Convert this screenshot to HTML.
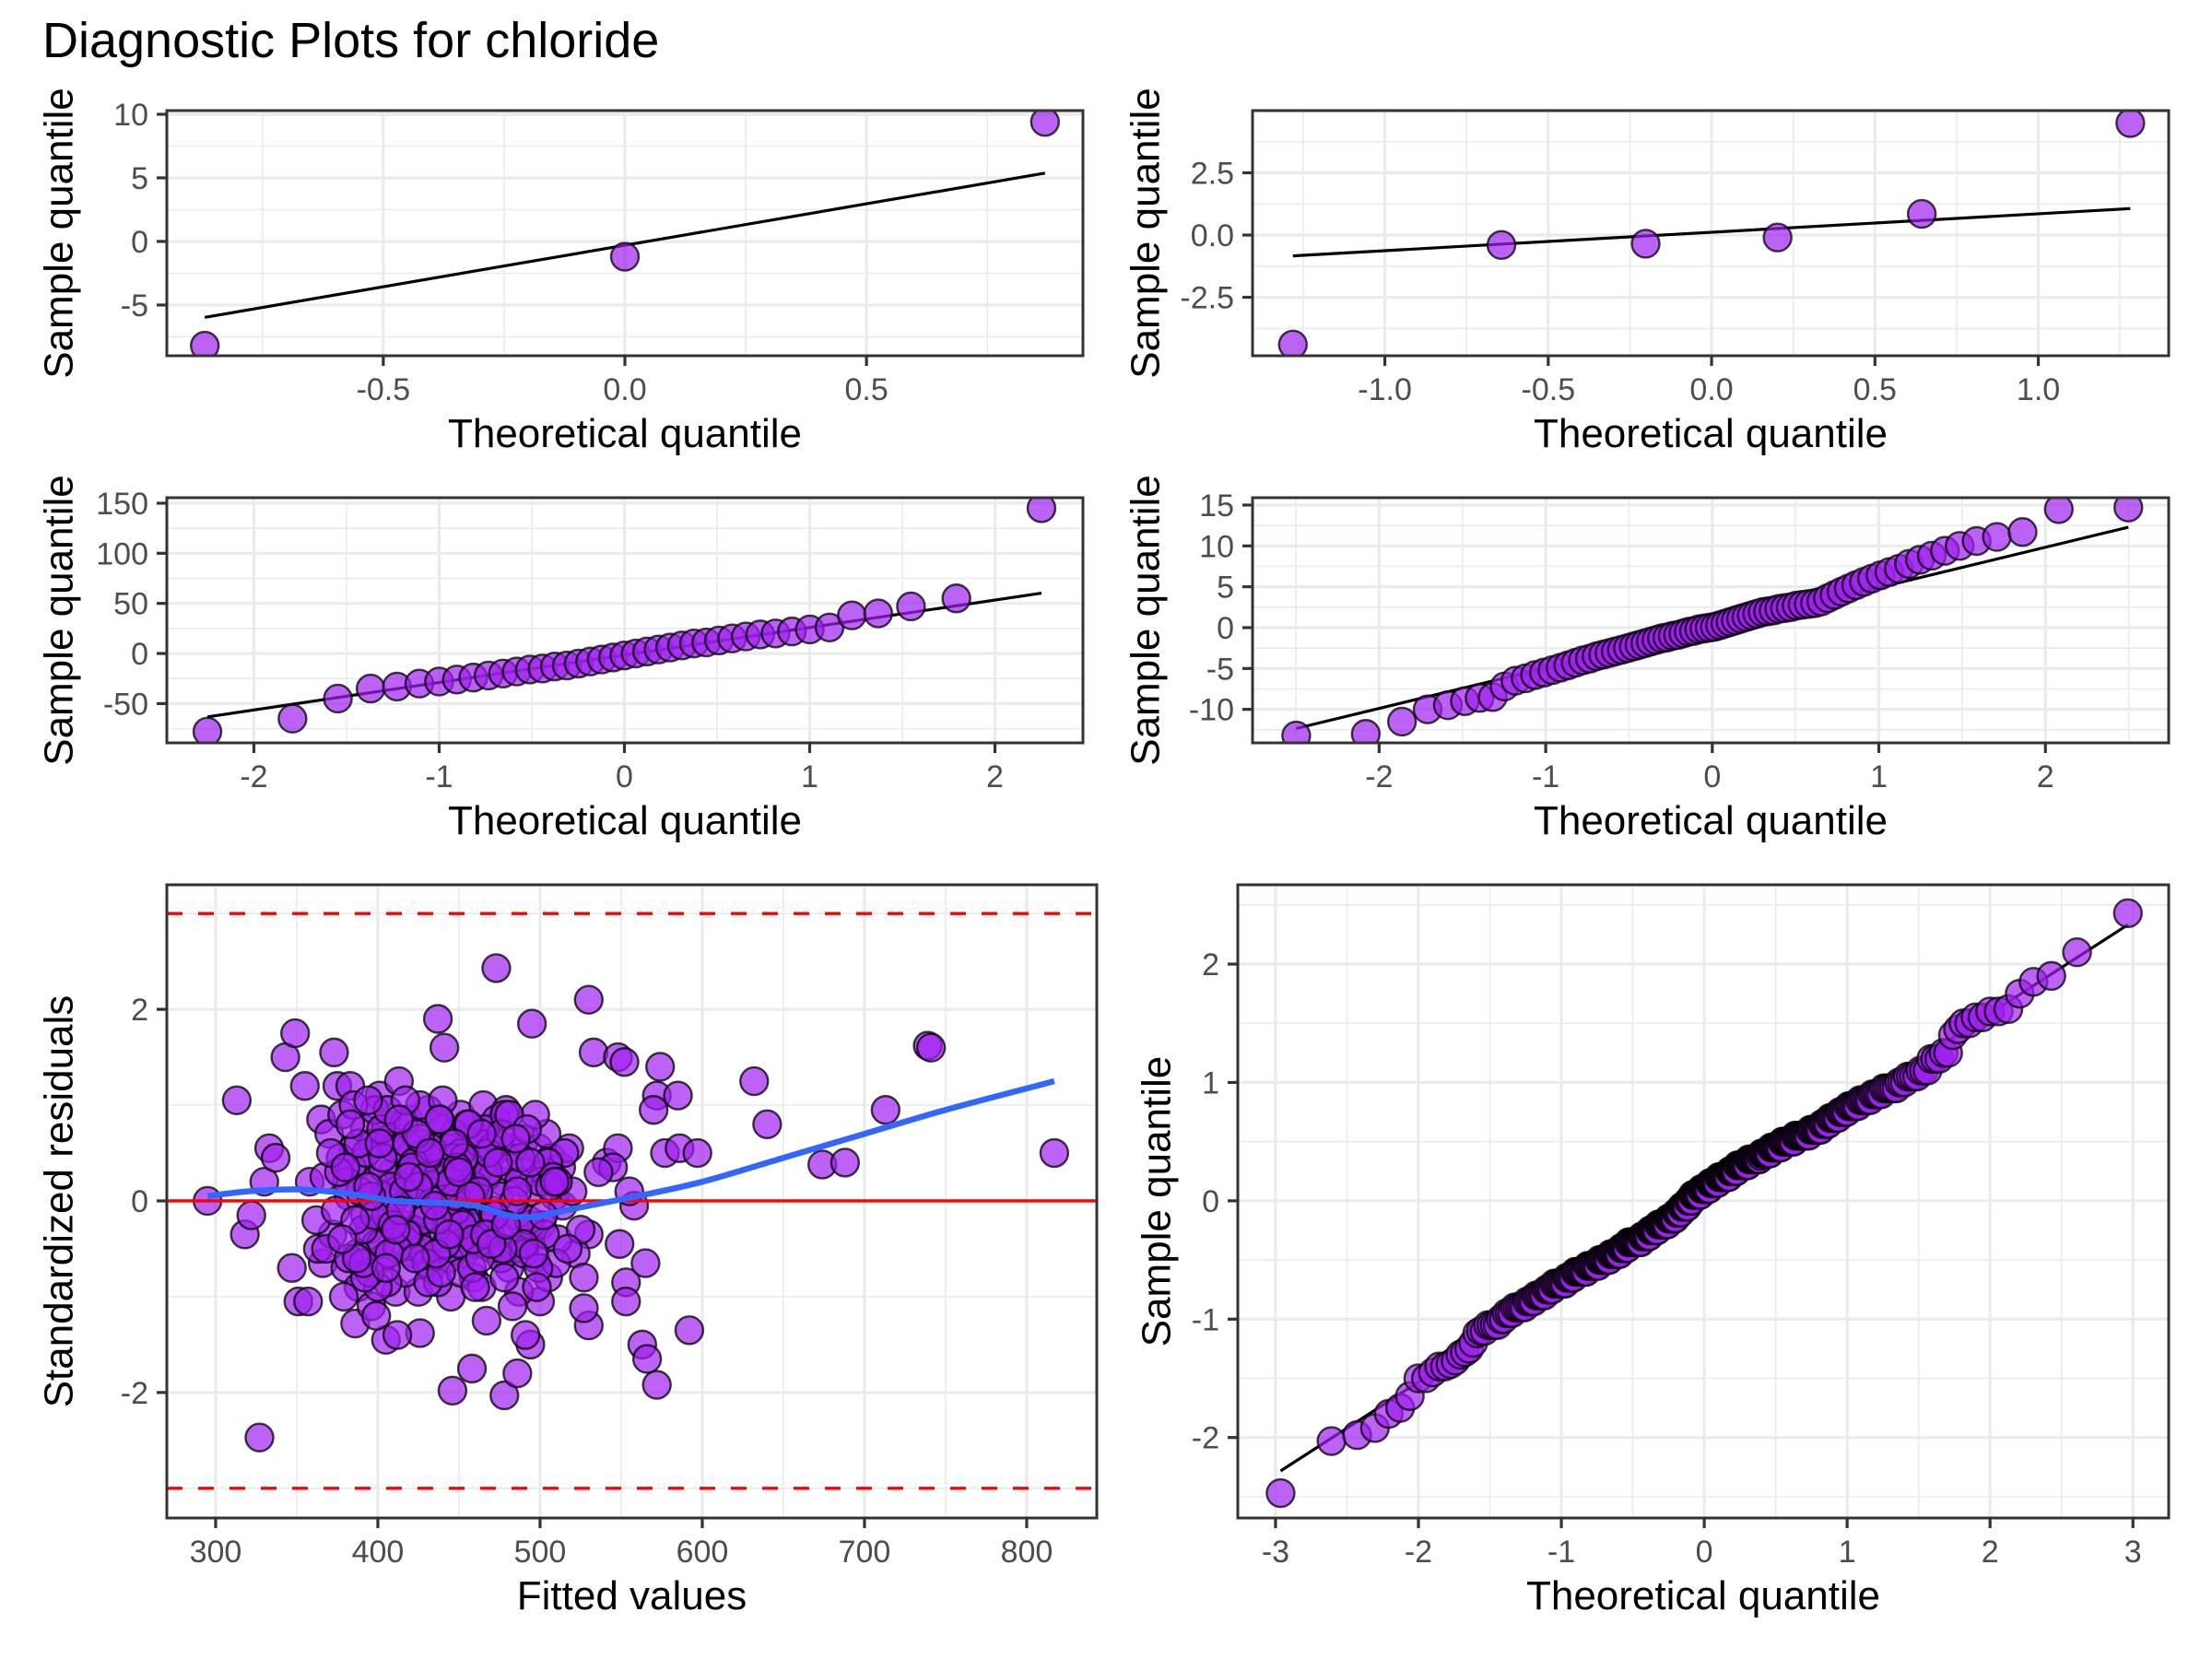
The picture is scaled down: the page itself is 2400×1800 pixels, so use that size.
<!DOCTYPE html>
<html>
<head>
<meta charset="utf-8">
<title>Diagnostic Plots for chloride</title>
<style>
  html, body { margin: 0; padding: 0; background: #ffffff; }
  svg { display: block; font-family: "Liberation Sans", Arial, sans-serif; }
</style>
</head>
<body>
<svg id="chart" width="2400" height="1800" viewBox="0 0 2400 1800" xmlns="http://www.w3.org/2000/svg">
  <rect x="0" y="0" width="2400" height="1800" fill="#ffffff"/>
  <text x="46" y="62" font-size="54" fill="#000000">Diagnostic Plots for chloride</text>
</svg>
<script>
// ---------------- DATA ----------------
const qq1Sample = [-8.2, -1.2, 9.4];
const qq2Sample = [-4.4, -0.4, -0.35, -0.1, 0.85, 4.5];
const qq3Sample = [-78, -65, -45, -35, -33, -30, -28, -26, -24, -22,
  -20, -18, -16, -15, -13, -12, -10, -8, -6, -4,
  -2, 0, 2, 4, 6, 8, 10, 11, 13, 15,
  17, 19, 20, 22, 24, 26, 38, 40, 47, 55, 145];
const qq4Sample = [-13.2, -13, -11.5, -10, -9.5, -9, -8.6, -8.5, -7.2, -6.5,
  -6.2, -5.8, -5.5, -5.2, -4.9, -4.6, -4.3, -4.0, -3.8, -3.5,
  -3.3, -3.1, -2.9, -2.7, -2.5, -2.3, -2.1, -1.9, -1.7, -1.5,
  -1.3, -1.2, -1.0, -0.9, -0.7, -0.5, -0.4, -0.2, -0.1, 0.0,
  0.1, 0.3, 0.5, 0.7, 0.9, 1.1, 1.3, 1.5, 1.7, 1.9,
  2.0, 2.1, 2.3, 2.4, 2.5, 2.7, 2.8, 2.9, 3.0, 3.2,
  3.6, 4.0, 4.4, 4.8, 5.2, 5.6, 6.0, 6.4, 6.8, 7.2,
  7.8, 8.3, 8.8, 9.4, 10.0, 10.6, 11.1, 11.7, 14.5, 14.7];
const fittedValues = [295,313,318,327,330,333,337,343,349,351,
  355,347,373,437,441,473,495,530,533,548,
  552,574,572,585,570,577,586,597,632,640,
  674,688,713,739,741,817,592,563,566,572,
  446,478,458,486,494,491,530,527,553,553,
  565,549,541,548,545,558,555,536,530,522,
  527,500,426,405,412,386,366,363,357,322,
  365,370,375,378,380,383,385,388,390,392,
  395,397,399,401,403,405,407,409,411,413,
  415,417,419,421,423,425,427,429,431,433,
  435,437,439,441,443,445,447,449,451,453,
  455,457,459,461,463,465,467,469,471,473,
  475,477,479,481,483,485,487,489,491,493,
  495,497,499,501,503,505,507,509,511,513,
  372,382,392,402,412,422,432,442,452,462,
  377,387,397,407,417,427,437,447,457,467,
  368,384,396,404,416,424,436,444,456,464,
  474,484,494,504,514,518,471,481,461,451,
  389,398,406,414,426,434,446,454,466,476,
  379,391,403,415,427,439,451,463,475,487,
  381,393,405,419,431,443,455,469,483,497,
  400,410,420,430,440,450,460,470,480,490,
  385,395,408,418,428,438,448,458,468,478,
  358,362,367,374,515,520,525,510,505,500,
  402,418,433,448,463,478,493,508,388,398,
  412,422,438,452,468,484,499,376,392,406,
  416,426,442,456,472,488,503,382,394,409,
  421,431,445,459,476,490,506,371,386,396,
  407,417,429,439,453,466,481,496,511,391,
  403,414,424,436,449,462,477,492,383,399,
  411,425,437,447,460,474,486,502,517,380,
  405,419,432,444,457,470,485,498,387,401,
  413,423,435,450,464,479,494,509,378,394];
const stdResiduals = [0,1.05,-0.35,-2.47,0.2,0.55,0.45,1.5,1.75,-1.05,
  1.2,-0.7,1.55,1.9,1.6,2.43,1.85,2.1,1.55,1.5,
  1.45,1.4,1.1,1.1,0.95,0.5,0.55,0.5,1.25,0.8,
  0.38,0.4,0.95,1.62,1.6,0.5,-1.35,-1.5,-1.65,-1.92,
  -1.98,-2.03,-1.75,-1.8,-1.5,-1.4,-1.3,-1.12,-0.85,-1.05,
  -0.65,-0.45,0.4,0.55,0.35,-0.05,0.1,0.3,-0.35,-0.55,
  -0.8,-1.05,-1.38,-1.45,-1.4,-1.28,-0.65,-0.5,-1.05,-0.15,
  0.85,0.7,1.2,0.9,-0.7,1.2,0.55,-0.9,0.4,0.75,
  -0.3,0.6,-0.45,1.1,-0.6,0.8,-0.2,0.3,-0.95,1.25,
  0.5,-0.25,0.85,-0.55,0.15,-0.95,0.6,-0.1,0.95,-0.7,
  0.35,-0.4,0.75,-0.05,0.55,-1.0,0.25,-0.3,0.9,-0.55,
  0.15,0.65,-0.8,0.3,-0.2,1.0,-1.25,0.45,-0.5,0.85,
  -0.35,0.2,0.95,-0.7,0.55,-0.15,-0.95,0.3,0.65,-0.4,
  0.1,-0.6,0.55,-0.25,0.3,-0.8,0.45,0.05,-0.4,0.35,
  -0.35,0.05,-0.15,-0.45,0.05,-0.3,0.1,-0.25,-0.05,0.0,
  0.45,-0.55,0.2,0.65,-0.75,0.35,-0.85,0.7,-0.35,0.25,
  -0.5,0.35,-1.1,0.05,0.8,-0.4,0.15,-0.6,0.4,-0.9,
  0.6,-0.5,-0.25,0.7,-0.05,0.55,-0.1,0.35,-0.45,0.5,
  0.1,0.95,-0.85,0.25,1.0,0.0,0.45,-0.2,0.75,-0.6,
  -1.0,-0.3,0.35,-0.05,-0.5,0.3,-0.75,0.6,0.05,0.2,
  0.2,0.5,-0.15,-0.35,0.45,-0.2,0.8,-0.35,-1.1,0.9,
  -0.9,0.55,0.3,-0.65,1.05,-0.45,0.15,0.55,-0.3,-0.55,
  1.0,-0.75,0.15,0.6,-0.2,0.85,-0.1,-0.7,0.3,-0.8,
  0.2,-0.2,0.25,-0.1,0.5,0.1,-0.3,-0.65,0.4,0.2,
  0.75,-0.35,0.55,0.05,-0.6,0.9,-0.2,0.25,0.6,-0.15,
  -0.5,0.4,0.85,-0.25,0.5,0.0,-0.7,0.3,-0.8,0.95,
  0.1,0.65,-0.45,0.8,-0.15,0.45,-0.35,-0.6,1.05,-0.25,
  0.35,-0.85,0.2,-0.4,0.7,-0.45,0.15,0.5,-0.2,0.05,
  -0.55,1.05,0.25,-0.75,0.45,-0.35,0.9,-0.55,0.2,-0.65,
  0.45,-0.1,0.7,-0.55,0.35,0.1,-0.5,0.75,0.8,-1.2,
  -0.3,0.15,-0.2,0.6,-0.9,0.4,0.1,-0.15,-0.5,0.35,
  -0.7,0.25,0.5,-0.35,0.05,-0.45,0.65,-0.9,-0.6,0.6,
  0.85,-0.6,-0.05,0.3,0.7,-0.25,0.4,0.2,-0.4,0.15];
const loessX = [295, 320, 350, 380, 410, 440, 460, 480, 495, 510, 530, 560, 600, 650, 700, 750, 817];
const loessY = [0.05, 0.1, 0.12, 0.08, 0.0, -0.02, -0.05, -0.15, -0.17, -0.12, -0.05, 0.05, 0.2, 0.45, 0.7, 0.95, 1.25];
const residRefLines = [-3, 0, 3];

const p1XTicks = [-0.5, 0, 0.5]; const p1XLabels = ["-0.5", "0.0", "0.5"];
const p1YTicks = [-5, 0, 5, 10]; const p1YLabels = ["-5", "0", "5", "10"];
const p2XTicks = [-1, -0.5, 0, 0.5, 1]; const p2XLabels = ["-1.0", "-0.5", "0.0", "0.5", "1.0"];
const p2YTicks = [-2.5, 0, 2.5]; const p2YLabels = ["-2.5", "0.0", "2.5"];
const p3XTicks = [-2, -1, 0, 1, 2]; const p3XLabels = ["-2", "-1", "0", "1", "2"];
const p3YTicks = [-50, 0, 50, 100, 150]; const p3YLabels = ["-50", "0", "50", "100", "150"];
const p4XTicks = [-2, -1, 0, 1, 2]; const p4XLabels = ["-2", "-1", "0", "1", "2"];
const p4YTicks = [-10, -5, 0, 5, 10, 15]; const p4YLabels = ["-10", "-5", "0", "5", "10", "15"];
const p5XTicks = [300, 400, 500, 600, 700, 800]; const p5XLabels = ["300", "400", "500", "600", "700", "800"];
const p5YTicks = [-2, 0, 2]; const p5YLabels = ["-2", "0", "2"];
const p6XTicks = [-3, -2, -1, 0, 1, 2, 3]; const p6XLabels = ["-3", "-2", "-1", "0", "1", "2", "3"];
const p6YTicks = [-2, -1, 0, 1, 2]; const p6YLabels = ["-2", "-1", "0", "1", "2"];

// ---------------- HELPERS ----------------
const NS = "http://www.w3.org/2000/svg";
const svg = document.getElementById("chart");

function mk(tag, attrs, parent) {
  const el = document.createElementNS(NS, tag);
  for (const k in attrs) el.setAttribute(k, attrs[k]);
  (parent || svg).appendChild(el);
  return el;
}

function qnorm(p) {
  const a = [-3.969683028665376e+01, 2.209460984245205e+02, -2.759285104469687e+02, 1.383577518672690e+02, -3.066479806614716e+01, 2.506628277459239e+00];
  const b = [-5.447609879822406e+01, 1.615858368580409e+02, -1.556989798598866e+02, 6.680131188771972e+01, -1.328068155288572e+01];
  const c = [-7.784894002430293e-03, -3.223964580411365e-01, -2.400758277161838e+00, -2.549732539343734e+00, 4.374664141464968e+00, 2.938163982698783e+00];
  const d = [7.784695709041462e-03, 3.224671290700398e-01, 2.445134137142996e+00, 3.754408661907416e+00];
  const pl = 0.02425, ph = 1 - pl;
  let q, r;
  if (p < pl) { q = Math.sqrt(-2 * Math.log(p)); return (((((c[0]*q+c[1])*q+c[2])*q+c[3])*q+c[4])*q+c[5]) / ((((d[0]*q+d[1])*q+d[2])*q+d[3])*q+1); }
  if (p > ph) { q = Math.sqrt(-2 * Math.log(1 - p)); return -(((((c[0]*q+c[1])*q+c[2])*q+c[3])*q+c[4])*q+c[5]) / ((((d[0]*q+d[1])*q+d[2])*q+d[3])*q+1); }
  q = p - 0.5; r = q * q;
  return (((((a[0]*r+a[1])*r+a[2])*r+a[3])*r+a[4])*r+a[5])*q / (((((b[0]*r+b[1])*r+b[2])*r+b[3])*r+b[4])*r+1);
}
function ppoints(n) {
  const a = n <= 10 ? 3 / 8 : 0.5;
  const out = [];
  for (let i = 1; i <= n; i++) out.push((i - a) / (n + 1 - 2 * a));
  return out;
}
function quantile7(sorted, p) {
  const h = (sorted.length - 1) * p, lo = Math.floor(h), hi = Math.ceil(h);
  return sorted[lo] + (h - lo) * (sorted[hi] - sorted[lo]);
}

let clipId = 0;
function makePanel(o) {
  const sx = v => o.x0 + (v - o.xmin) / (o.xmax - o.xmin) * (o.x1 - o.x0);
  const sy = v => o.y1 - (v - o.ymin) / (o.ymax - o.ymin) * (o.y1 - o.y0);
  const g = mk("g", {});
  
  
  mk("rect", { x: o.x0, y: o.y0, width: o.x1 - o.x0, height: o.y1 - o.y0, fill: "#ffffff" }, g);
  const grid = mk("g", {}, g);
  
  
  o.xm.forEach(v => { if (v > o.xmin && v < o.xmax) mk("line", { x1: sx(v), x2: sx(v), y1: o.y0, y2: o.y1, stroke: "#ebebeb", "stroke-width": 1.6 }, grid); });
  o.ym.forEach(v => { if (v > o.ymin && v < o.ymax) mk("line", { x1: o.x0, x2: o.x1, y1: sy(v), y2: sy(v), stroke: "#ebebeb", "stroke-width": 1.6 }, grid); });
  o.xt.forEach(v => mk("line", { x1: sx(v), x2: sx(v), y1: o.y0, y2: o.y1, stroke: "#ebebeb", "stroke-width": 3.2 }, grid));
  o.yt.forEach(v => mk("line", { x1: o.x0, x2: o.x1, y1: sy(v), y2: sy(v), stroke: "#ebebeb", "stroke-width": 3.2 }, grid));
  clipId++;
  const cp = mk("clipPath", { id: "clip" + clipId }, g);
  mk("rect", { x: o.x0, y: o.y0, width: o.x1 - o.x0, height: o.y1 - o.y0 }, cp);
  const data = mk("g", { "clip-path": "url(#clip" + clipId + ")" }, g);
  
  
  const xa = mk("g", {}, g);
  
  
  o.xt.forEach((v, i) => {
    mk("line", { x1: sx(v), x2: sx(v), y1: o.y1, y2: o.y1 + 11, stroke: "#333333", "stroke-width": 3.2 }, xa);
    const t = mk("text", { x: sx(v), y: o.y1 + 48, "text-anchor": "middle", "font-size": 34, fill: "#4d4d4d" }, xa);
    t.textContent = o.xl[i];
    
    
  });
  const ya = mk("g", {}, g);
  
  
  o.yt.forEach((v, i) => {
    mk("line", { x1: o.x0 - 11, x2: o.x0, y1: sy(v), y2: sy(v), stroke: "#333333", "stroke-width": 3.2 }, ya);
    const t = mk("text", { x: o.x0 - 20, y: sy(v) + 12, "text-anchor": "end", "font-size": 34, fill: "#4d4d4d" }, ya);
    t.textContent = o.yl[i];
    
    
  });
  const xt = mk("text", { x: (o.x0 + o.x1) / 2, y: o.y1 + 99, "text-anchor": "middle", "font-size": 44, fill: "#000000" }, g);
  xt.textContent = o.xtitle;
  
  
  const cy = (o.y0 + o.y1) / 2;
  const yt = mk("text", { x: o.ytx, y: cy, "text-anchor": "middle", "dominant-baseline": "central", "font-size": 44, fill: "#000000", transform: "rotate(-90 " + o.ytx + " " + cy + ")" }, g);
  yt.textContent = o.ytitle;
  
  
  const border = mk("rect", { x: o.x0, y: o.y0, width: o.x1 - o.x0, height: o.y1 - o.y0, fill: "none", stroke: "#333333", "stroke-width": 3 }, g);
  
  
  return { sx, sy, data };
}

function drawPoint(P, xv, yv, parent) {
  const c = mk("circle", { cx: P.sx(xv), cy: P.sy(yv), r: 15, fill: "rgb(160,32,240)", "fill-opacity": 0.7, stroke: "rgba(0,0,0,0.75)", "stroke-width": 2.4 }, parent);
  
  
  return c;
}

function qqPanel(P, sample) {
  const s = sample.slice().sort((a, b) => a - b);
  const theo = ppoints(s.length).map(qnorm);
  const q1 = quantile7(s, 0.25), q3 = quantile7(s, 0.75);
  const z1 = qnorm(0.25), z3 = qnorm(0.75);
  const slope = (q3 - q1) / (z3 - z1), icpt = q1 - slope * z1;
  const xa = theo[0], xb = theo[theo.length - 1];
  const ln = mk("line", { x1: P.sx(xa), y1: P.sy(icpt + slope * xa), x2: P.sx(xb), y2: P.sy(icpt + slope * xb), stroke: "#000000", "stroke-width": 3.2 }, P.data);
  
  
  s.forEach((v, i) => drawPoint(P, theo[i], v, P.data));
}

// smooth path through points (Catmull-Rom)
function smoothPath(pts) {
  let d = "M" + pts[0][0].toFixed(1) + "," + pts[0][1].toFixed(1);
  for (let i = 0; i < pts.length - 1; i++) {
    const p0 = pts[i - 1] || pts[i], p1 = pts[i], p2 = pts[i + 1], p3 = pts[i + 2] || p2;
    const c1x = p1[0] + (p2[0] - p0[0]) / 6, c1y = p1[1] + (p2[1] - p0[1]) / 6;
    const c2x = p2[0] - (p3[0] - p1[0]) / 6, c2y = p2[1] - (p3[1] - p1[1]) / 6;
    d += " C" + c1x.toFixed(1) + "," + c1y.toFixed(1) + " " + c2x.toFixed(1) + "," + c2y.toFixed(1) + " " + p2[0].toFixed(1) + "," + p2[1].toFixed(1);
  }
  return d;
}

// ---------------- PANELS ----------------
const P1 = makePanel({ name: "qq-panel-1", x0: 181, x1: 1175, y0: 120, y1: 386, xmin: -0.948, xmax: 0.948, ymin: -8.99, ymax: 10.29,
  xt: p1XTicks, xl: p1XLabels, xm: [-0.75, -0.25, 0.25, 0.75], yt: p1YTicks, yl: p1YLabels, ym: [-7.5, -2.5, 2.5, 7.5],
  xtitle: "Theoretical quantile", ytitle: "Sample quantile", ytx: 64 });
qqPanel(P1, qq1Sample);

const P2 = makePanel({ name: "qq-panel-2", x0: 1359, x1: 2353, y0: 120, y1: 386, xmin: -1.405, xmax: 1.399, ymin: -4.85, ymax: 5.0,
  xt: p2XTicks, xl: p2XLabels, xm: [-1.25, -0.75, -0.25, 0.25, 0.75, 1.25], yt: p2YTicks, yl: p2YLabels, ym: [-3.75, -1.25, 1.25, 3.75],
  xtitle: "Theoretical quantile", ytitle: "Sample quantile", ytx: 1243 });
qqPanel(P2, qq2Sample);

const P3 = makePanel({ name: "qq-panel-3", x0: 181, x1: 1175, y0: 540, y1: 806, xmin: -2.47, xmax: 2.475, ymin: -89.2, ymax: 155.5,
  xt: p3XTicks, xl: p3XLabels, xm: [-1.5, -0.5, 0.5, 1.5, -2.5, 2.5], yt: p3YTicks, yl: p3YLabels, ym: [-75, -25, 25, 75, 125],
  xtitle: "Theoretical quantile", ytitle: "Sample quantile", ytx: 64 });
qqPanel(P3, qq3Sample);

const P4 = makePanel({ name: "qq-panel-4", x0: 1359, x1: 2353, y0: 540, y1: 806, xmin: -2.76, xmax: 2.74, ymin: -14.1, ymax: 15.9,
  xt: p4XTicks, xl: p4XLabels, xm: [-2.5, -1.5, -0.5, 0.5, 1.5, 2.5], yt: p4YTicks, yl: p4YLabels, ym: [-12.5, -7.5, -2.5, 2.5, 7.5, 12.5],
  xtitle: "Theoretical quantile", ytitle: "Sample quantile", ytx: 1243 });
qqPanel(P4, qq4Sample);

const P5 = makePanel({ name: "residuals-vs-fitted-panel", x0: 181, x1: 1190, y0: 960, y1: 1647, xmin: 269.9, xmax: 843.2, ymin: -3.31, ymax: 3.3,
  xt: p5XTicks, xl: p5XLabels, xm: [350, 450, 550, 650, 750], yt: p5YTicks, yl: p5YLabels, ym: [-3, -1, 1, 3],
  xtitle: "Fitted values", ytitle: "Standardized residuals", ytx: 64 });
fittedValues.forEach((f, i) => drawPoint(P5, f, stdResiduals[i], P5.data));
residRefLines.forEach(v => {
  const l = mk("line", { x1: P5.sx(269.9), x2: P5.sx(843.2), y1: P5.sy(v), y2: P5.sy(v), stroke: "#ff0000", "stroke-width": 3.4 }, P5.data);
  if (v !== 0) l.setAttribute("stroke-dasharray", "17 17");
  
  
});
const loessPath = mk("path", { d: smoothPath(loessX.map((x, i) => [P5.sx(x), P5.sy(loessY[i])])), fill: "none", stroke: "#3366ff", "stroke-width": 6.5, "stroke-linejoin": "round" }, P5.data);



const P6 = makePanel({ name: "residuals-qq-panel", x0: 1343, x1: 2353, y0: 960, y1: 1647, xmin: -3.264, xmax: 3.25, ymin: -2.68, ymax: 2.67,
  xt: p6XTicks, xl: p6XLabels, xm: [-2.5, -1.5, -0.5, 0.5, 1.5, 2.5], yt: p6YTicks, yl: p6YLabels, ym: [-2.5, -1.5, -0.5, 0.5, 1.5, 2.5],
  xtitle: "Theoretical quantile", ytitle: "Sample quantile", ytx: 1255 });
qqPanel(P6, stdResiduals);
</script>
</body>
</html>
